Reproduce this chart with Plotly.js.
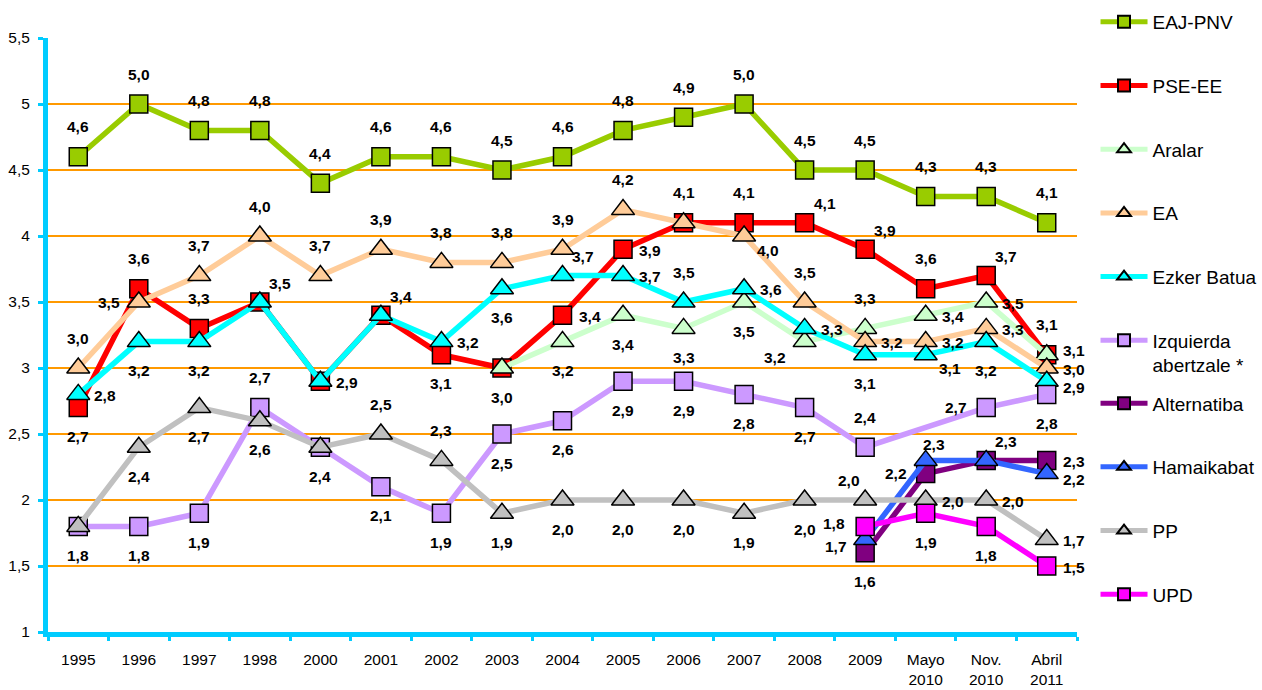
<!DOCTYPE html>
<html>
<head>
<meta charset="utf-8">
<script src="https://cdn.plot.ly/plotly-3.0.1.min.js"></script>
<style>html,body{margin:0;padding:0;background:#fff;}#chart{width:1262px;height:690px;}</style>
</head>
<body>
<div id="chart"></div>
<script>
const categories = ['1995','1996','1997','1998','2000','2001','2002','2003','2004','2005','2006','2007','2008','2009','Mayo<br>2010','Nov.<br>2010','Abril<br>2011'];

const eajPnv      = [4.6,5.0,4.8,4.8,4.4,4.6,4.6,4.5,4.6,4.8,4.9,5.0,4.5,4.5,4.3,4.3,4.1];
const pseEe       = [2.7,3.6,3.3,3.5,2.9,3.4,3.1,3.0,3.4,3.9,4.1,4.1,4.1,3.9,3.6,3.7,3.1];
const aralar      = [null,null,null,null,null,null,null,3.0,3.2,3.4,3.3,3.5,3.2,3.3,3.4,3.5,3.1];
const ea          = [3.0,3.5,3.7,4.0,3.7,3.9,3.8,3.8,3.9,4.2,4.1,4.0,3.5,3.2,3.2,3.3,3.0];
const ezkerBatua  = [2.8,3.2,3.2,3.5,2.9,3.4,3.2,3.6,3.7,3.7,3.5,3.6,3.3,3.1,3.1,3.2,2.9];
const izquierda   = [1.8,1.8,1.9,2.7,2.4,2.1,1.9,2.5,2.6,2.9,2.9,2.8,2.7,2.4,null,2.7,2.8];
const alternatiba = [null,null,null,null,null,null,null,null,null,null,null,null,null,1.6,2.2,2.3,2.3];
const hamaikabat  = [null,null,null,null,null,null,null,null,null,null,null,null,null,1.7,2.3,2.3,2.2];
const pp          = [1.8,2.4,2.7,2.6,2.4,2.5,2.3,1.9,2.0,2.0,2.0,1.9,2.0,2.0,2.0,2.0,1.7];
const upd         = [null,null,null,null,null,null,null,null,null,null,null,null,null,1.8,1.9,1.8,1.5];

const seriesNames = ['EAJ-PNV','PSE-EE','Aralar','EA','Ezker Batua','Izquierda<br>abertzale *','Alternatiba','Hamaikabat','PP','UPD'];

// label placement codes (style, kept apart from the data)
const E = '';
const posEaj = ['T','T','T','T','T','T','T','T','T','T','T','T','T','T','T','T','T'];
const posPse = ['B','T','T','TR','R','TR','B','B','R','R','T','T','TR','TR','T','TR','T'];
const posAralar = [E,E,E,E,E,E,E,E,'B','B','B','B','BL','T','R','R','RU'];
const posEa = ['T','L','T','T','T','T','T','T','T','T',E,'BR','T','R','R','R','R'];
const posEb = ['R','B','B',E,E,E,'R','B','TR','R','T','R','R','B','BR','B','RD'];
const posIzq = ['B','B','B','T','B','B','B','B','B','B','B','B','B','T',E,'L','B'];
const posAlt = [E,E,E,E,E,E,E,E,E,E,E,E,E,'B','L','TR','R'];
const posHam = [E,E,E,E,E,E,E,E,E,E,E,E,E,'LD','TS',E,'RD'];
const posPp = [E,'B','B','B',E,'T','T','B','B','B','B','B','B','TL','R','R','R'];
const posUpd = [E,E,E,E,E,E,E,E,E,E,E,E,E,'LU','B','B','R'];

const shifts = {T:[0,30],B:[0,-29],R:[27,-1],RU:[27,4],RD:[27,-6],L:[-30,0],LU:[-31,3],LD:[-29,-7],
                TR:[20,19],BR:[24,-14],TL:[-16,20],BL:[-30,-16],TS:[8,16]};

const cfg = [
  {y:eajPnv, pos:posEaj, color:'#99cc00', sym:'square', lg:'legend'},
  {y:pseEe, pos:posPse, color:'#ff0000', sym:'square', lg:'legend'},
  {y:aralar, pos:posAralar, color:'#ccffcc', sym:'triangle-up', lg:'legend'},
  {y:ea, pos:posEa, color:'#ffcc99', sym:'triangle-up', lg:'legend'},
  {y:ezkerBatua, pos:posEb, color:'#00ffff', sym:'triangle-up', lg:'legend'},
  {y:izquierda, pos:posIzq, color:'#cc99ff', sym:'square', lg:'legend'},
  {y:alternatiba, pos:posAlt, color:'#800080', sym:'square', lg:'legend2'},
  {y:hamaikabat, pos:posHam, color:'#3366ff', sym:'triangle-up', lg:'legend2'},
  {y:pp, pos:posPp, color:'#c0c0c0', sym:'triangle-up', lg:'legend2'},
  {y:upd, pos:posUpd, color:'#ff00ff', sym:'square', lg:'legend2'}
];

const traces = [];
const annotations = [];
cfg.forEach((c, i) => {
  traces.push({
    type:'scatter', mode:'lines+markers', name: seriesNames[i],
    x: categories, y: c.y, connectgaps: true,
    legend: c.lg, legendgroup: 'g'+i,
    line:{color:c.color, width:5.5},
    marker:{symbol:c.sym, size: c.sym === 'square' ? 18 : 20, color:c.color, line:{color:'#000000', width:1.5}},
    hoverinfo:'x+y'
  });
  c.y.forEach((v, j) => {
    const p = c.pos[j];
    if (v === null || !p) return;
    const s = shifts[p];
    annotations.push({
      x: j, y: v, xref:'x', yref:'y',
      text: v.toFixed(1).replace('.', ','), showarrow:false,
      xshift: s[0], yshift: s[1],
      font:{family:'Liberation Sans, Arial, sans-serif', size:15.5, color:'#000000', weight:'bold'}
    });
  });
});

const legendBase = {
  xanchor:'left', yanchor:'top',
  font:{size:19, color:'#000000'}, tracegroupgap:36, itemwidth:47, itemsizing:'constant',
  valign:'top', bgcolor:'rgba(0,0,0,0)', maxheight:600
};

const layout = {
  width:1262, height:690,
  margin:{l:48, r:185, t:38, b:58, autoexpand:false},
  paper_bgcolor:'#ffffff', plot_bgcolor:'#ffffff',
  separators:',.',
  font:{family:'Liberation Sans, Arial, sans-serif', color:'#000000'},
  showlegend:true,
  xaxis:{
    type:'category', range:[-0.5,16.5], showgrid:false, zeroline:false,
    showline:true, linecolor:'#00ccff', linewidth:5,
    ticks:'outside', tickson:'boundaries', ticklen:4, tickwidth:3, tickcolor:'#00ccff',
    ticklabelstandoff:9,
    tickfont:{size:15.5, color:'#000000'}, fixedrange:true
  },
  yaxis:{
    range:[1,5.5], dtick:0.5, tick0:1, showgrid:true, gridcolor:'#ff9900', gridwidth:2, zeroline:false,
    showline:true, linecolor:'#00ccff', linewidth:5,
    ticks:'outside', ticklen:5, tickwidth:3, tickcolor:'#00ccff', ticklabelstandoff:5,
    tickfont:{size:15.5, color:'#000000'}, fixedrange:true
  },
  legend: Object.assign({}, legendBase, {x:1.018, y:1.059}),
  legend2: Object.assign({}, legendBase, {x:1.018, y:0.417}),
  annotations: annotations
};

Plotly.newPlot('chart', traces, layout, {displayModeBar:false, staticPlot:true});
</script>
</body>
</html>
